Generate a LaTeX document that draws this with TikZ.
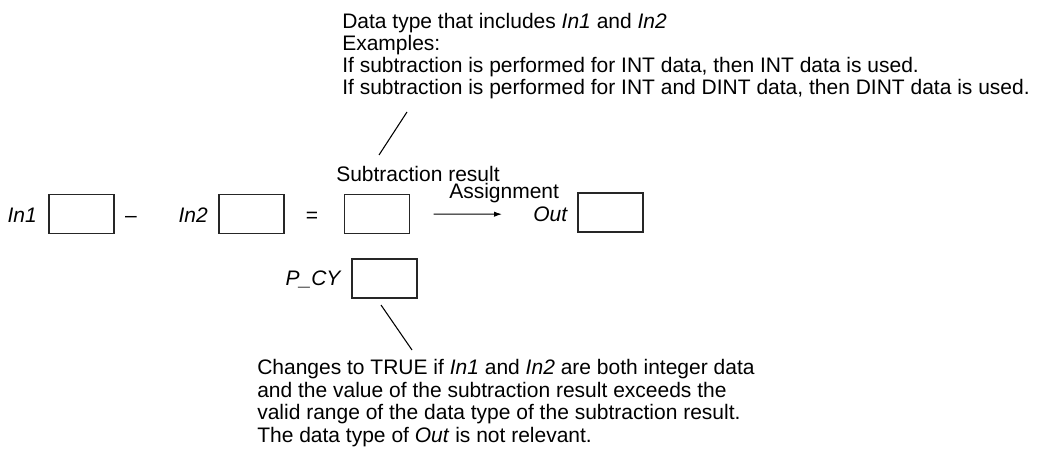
\documentclass[tikz,border=0pt]{standalone}
\usepackage{fontspec}
\setmainfont{Liberation Sans}
\usetikzlibrary{arrows.meta}
\begin{document}
\begin{tikzpicture}[x=0.75pt,y=-0.75pt,
  every node/.style={font=\fontsize{15.75}{16.5}\selectfont, inner sep=0pt},
  varbox/.style={draw=black!85, line width=1pt, minimum width=48.75pt, minimum height=29.25pt},
  leader/.style={line width=0.8pt},
  note/.style={align=left, anchor=north west}]
  \useasboundingbox (0,0) rectangle (1040,452);
  % operands, result and output
  \node[varbox] (in1box) at (81.5,214) {};
  \node[anchor=base east] (in1) at (37,223) {\textit{In1}};
  \node[anchor=base] (minus) at (131,223) {--};
  \node[varbox] (in2box) at (251.5,214) {};
  \node[anchor=base east] (in2) at (208,223) {\textit{In2}};
  \node[anchor=base] (equals) at (312,223) {=};
  \node[varbox] (resbox) at (377,214) {};
  \node[anchor=base west] (reslabel) at (336,182) {Subtraction result};
  \node[anchor=base west] (assign) at (449,199) {Assignment};
  \node[anchor=base west] (out) at (533,221.5) {\textit{Out}};
  \node[varbox] (outbox) at (610.5,212.5) {};
  \node[varbox] (pcybox) at (384.5,278.5) {};
  \node[anchor=base east] (pcy) at (342,285.5) {\textit{P\_CY}};
  \draw[line width=0.8pt, -{Latex[length=6pt,width=4pt]}, shorten <=17.6pt, shorten >=23.25pt]
    (resbox.east) -- (out.west);
  % explanations
  \node[note] (typenote) at (342,13) {Data type that includes \textit{In1} and \textit{In2}\\
    Examples:\\
    If subtraction is performed for INT data, then INT data is used.\\
    If subtraction is performed for INT and DINT data, then DINT data is used.};
  \node[note, font=\fontsize{15.75}{17}\selectfont] (cynote) at (257,359) {Changes to TRUE if \textit{In1} and \textit{In2} are both integer data\\
    and the value of the subtraction result exceeds the\\
    valid range of the data type of the subtraction result.\\
    The data type of \textit{Out} is not relevant.};
  \coordinate (resfoot) at (379,155);
  \coordinate (typefoot) at (407,112);
  \coordinate (pcyfoot) at (381,305);
  \coordinate (cyfoot) at (412,350);
  \draw[leader] (resfoot) -- (typefoot);
  \draw[leader] (pcyfoot) -- (cyfoot);
\end{tikzpicture}
\end{document}
